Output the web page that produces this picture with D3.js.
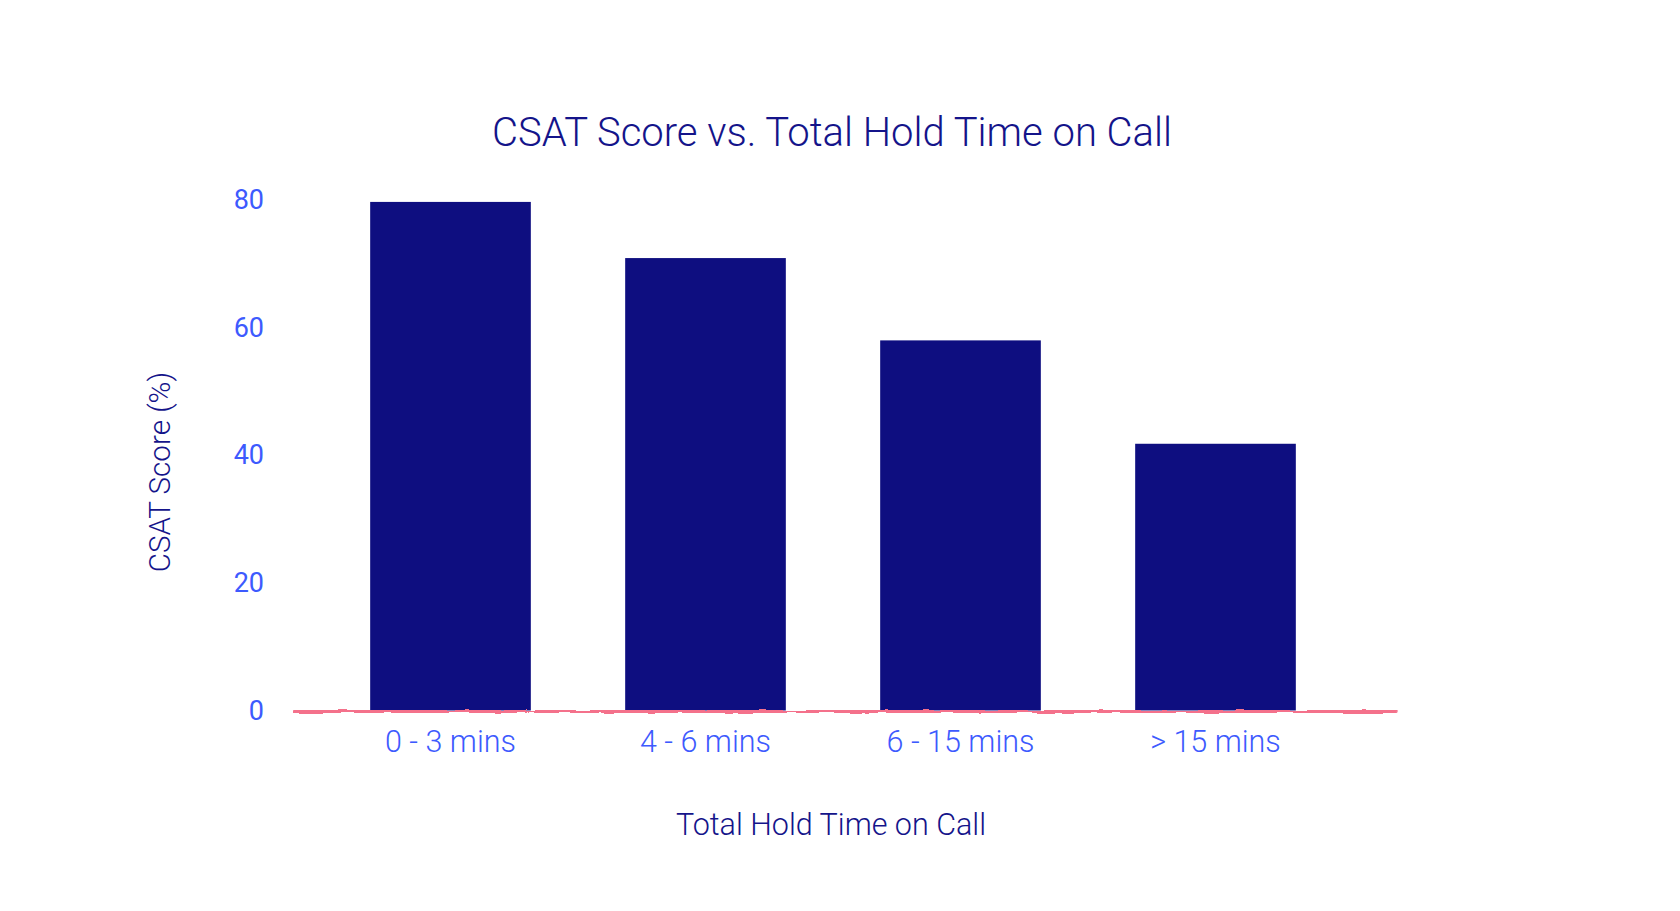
<!DOCTYPE html>
<meta charset="utf-8">
<script src="https://d3js.org/d3.v7.min.js"></script>
<style>
  body { margin: 0; background: #fff; }
  text { font-family: Roboto, "Open Sans", sans-serif; }
</style>
<div id="my_dataviz"></div>
<script>

// data
var holdTimes = ["0 - 3 mins", "4 - 6 mins", "6 - 15 mins", "> 15 mins"];
var csatScores = [79.7, 70.9, 58.0, 41.8];
var yTicks = [0, 20, 40, 60, 80];

var W = 1680, H = 911;
var margin = {top: 200, left: 293, right: 282, bottom: 200};
var width = W - margin.left - margin.right,
    height = 710.5 - margin.top;

var svg = d3.select("#my_dataviz")
  .append("svg")
    .attr("width", W)
    .attr("height", H);

// rough edge for the pink baseline
var defs = svg.append("defs");
var rough = defs.append("filter").attr("id", "rough")
  .attr("filterUnits", "userSpaceOnUse")
  .attr("x", 0).attr("y", 0).attr("width", W).attr("height", H);
rough.append("feTurbulence")
  .attr("type", "fractalNoise").attr("baseFrequency", "0.05 0.4")
  .attr("numOctaves", 2).attr("seed", 3).attr("result", "noise");
rough.append("feDisplacementMap")
  .attr("in", "SourceGraphic").attr("in2", "noise")
  .attr("scale", 3.5).attr("xChannelSelector", "R").attr("yChannelSelector", "G");

var g = svg.append("g")
  .attr("transform", "translate(" + margin.left + "," + margin.top + ")");

// scales
var x = d3.scaleBand()
  .domain(holdTimes)
  .range([30, 1050])
  .paddingInner(0.37)
  .paddingOuter(0.185);

var y = d3.scaleLinear()
  .domain([0, 80])
  .range([height, 0]);

// bars
g.selectAll("rect.bar")
  .data(holdTimes)
  .enter()
  .append("rect")
    .attr("class", "bar")
    .attr("x", function(d) { return x(d); })
    .attr("y", function(d, i) { return y(csatScores[i]); })
    .attr("width", x.bandwidth())
    .attr("height", function(d, i) { return y(0) - y(csatScores[i]); })
    .style("fill", "#0e0e80");

// pink baseline
g.append("line")
  .attr("x1", 0)
  .attr("x2", width - 2)
  .attr("y1", y(0) + 1)
  .attr("y2", y(0) + 1)
  .attr("stroke", "#f4718b")
  .attr("stroke-width", 3.2)
  .attr("stroke-linecap", "round")
  .attr("filter", "url(#rough)");

// Y axis (labels only)
var yAxis = g.append("g")
  .attr("transform", "translate(-29,0)")
  .call(d3.axisLeft(y).tickValues(yTicks).tickSize(0).tickPadding(0));
yAxis.select(".domain").remove();
yAxis.selectAll("text")
  .style("font-family", "Roboto, sans-serif")
  .style("font-size", "27px")
  .style("fill", "#3d5afe");

// X axis (labels only)
var xAxis = g.append("g")
  .attr("transform", "translate(0," + height + ")")
  .call(d3.axisBottom(x).tickSize(0).tickPadding(20));
xAxis.select(".domain").remove();
xAxis.selectAll("text")
  .style("font-family", "Roboto, sans-serif")
  .style("font-size", "30.5px")
  .style("font-weight", 300)
  .style("fill", "#3d5afe");

// title
svg.append("text")
  .attr("x", 832)
  .attr("y", 146)
  .attr("text-anchor", "middle")
  .style("font-size", "40px")
  .style("font-weight", 300)
  .style("fill", "#14148a")
  .text("CSAT Score vs. Total Hold Time on Call");

// X axis title
svg.append("text")
  .attr("x", 831)
  .attr("y", 835)
  .attr("text-anchor", "middle")
  .style("font-size", "30.5px")
  .style("font-weight", 300)
  .style("fill", "#14148a")
  .text("Total Hold Time on Call");

// Y axis title
svg.append("text")
  .attr("transform", "translate(170,472) rotate(-90)")
  .attr("text-anchor", "middle")
  .style("font-size", "29.6px")
  .style("font-weight", 300)
  .style("fill", "#14148a")
  .text("CSAT Score (%)");

</script>
